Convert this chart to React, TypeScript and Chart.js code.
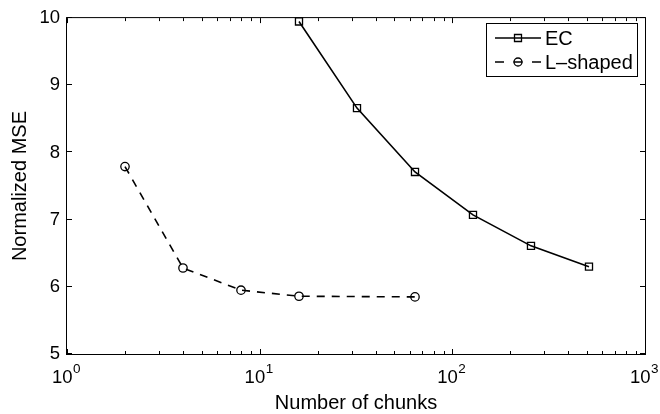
import React, { useEffect, useRef } from "react";
import { Chart, registerables } from "chart.js";

Chart.register(...registerables);

// ---- data ----
const ecChunks = [16, 32, 64, 128, 256, 512];
const ecMSE = [9.95, 8.66, 7.71, 7.07, 6.61, 6.3];
const lChunks = [2, 4, 8, 16, 64];
const lMSE = [7.79, 6.28, 5.95, 5.86, 5.85];
const xMajorTicks = [1, 10, 100, 1000];
const xTickBase = "10";
const xTickExponents = ["0", "1", "2", "3"];
const seriesLabels = ["EC", "L\u2013shaped"];
const xTitle = "Number of chunks";
const yTitle = "Normalized MSE";

const FONT = "'Liberation Sans', Arial, Helvetica, sans-serif";

const framePlugin = {
  id: "matlabFrame",
  afterDraw(chart: any) {
    const { ctx, chartArea } = chart;
    const { left, right, top, bottom } = chartArea;
    const xs = chart.scales.x;
    const ys = chart.scales.y;
    ctx.save();
    ctx.strokeStyle = "#000";
    ctx.fillStyle = "#000";
    ctx.lineWidth = 1;
    ctx.setLineDash([]);
    // box
    ctx.strokeRect(left - 0.5, top - 0.5, right - left + 1, bottom - top + 1);
    const MAJ = 5;
    const MIN = 3;
    const vline = (x: number, y1: number, y2: number) => {
      ctx.beginPath();
      ctx.moveTo(Math.round(x) + 0.5, y1);
      ctx.lineTo(Math.round(x) + 0.5, y2);
      ctx.stroke();
    };
    const hline = (y: number, x1: number, x2: number) => {
      ctx.beginPath();
      ctx.moveTo(x1, Math.round(y) - 0.5);
      ctx.lineTo(x2, Math.round(y) - 0.5);
      ctx.stroke();
    };
    // x ticks (major + minor) inward on bottom and top
    xMajorTicks.forEach((v, i) => {
      const px = xs.getPixelForValue(v);
      vline(px, bottom, bottom - MAJ);
      vline(px, top, top + MAJ);
      if (i < xMajorTicks.length - 1) {
        for (let k = 2; k <= 9; k++) {
          const mx = xs.getPixelForValue(v * k);
          vline(mx, bottom, bottom - MIN);
          vline(mx, top, top + MIN);
        }
      }
    });
    // y ticks inward on left and right
    ys.ticks.forEach((t: any) => {
      const py = ys.getPixelForValue(t.value);
      hline(py, left, left + MAJ);
      hline(py, right, right - MAJ);
    });
    // x tick labels 10^n
    const baseFont = `18.5px ${FONT}`;
    const expFont = `13.5px ${FONT}`;
    ctx.textBaseline = "alphabetic";
    ctx.textAlign = "left";
    xMajorTicks.forEach((v, i) => {
      const px = xs.getPixelForValue(v);
      ctx.font = baseFont;
      const w1 = ctx.measureText(xTickBase).width;
      ctx.font = expFont;
      const w2 = ctx.measureText(xTickExponents[i]).width;
      const x0 = px - (w1 + w2) / 2 - 1;
      ctx.font = baseFont;
      ctx.fillText(xTickBase, x0, bottom + 29);
      ctx.font = expFont;
      ctx.fillText(xTickExponents[i], x0 + w1 + 0.5, bottom + 18.5);
    });
    // legend
    const lx = 486.5, ly = 23.5, lw = 151, lh = 53;
    ctx.fillStyle = "#fff";
    ctx.fillRect(lx, ly, lw, lh);
    ctx.strokeStyle = "#000";
    ctx.lineWidth = 1;
    ctx.strokeRect(lx, ly, lw, lh);
    const rows = [38, 62];
    chart.data.datasets.forEach((ds: any, i: number) => {
      const y = rows[i];
      ctx.strokeStyle = "#000";
      ctx.lineWidth = 1.6;
      ctx.setLineDash(i === 1 ? [9, 9.5] : []);
      ctx.beginPath();
      ctx.moveTo(495, y);
      ctx.lineTo(541, y);
      ctx.stroke();
      ctx.setLineDash([]);
      ctx.lineWidth = 1.3;
      ctx.beginPath();
      if (ds.pointStyle === "rect") {
        ctx.rect(518 - 3.5, y - 3.5, 7, 7);
      } else {
        ctx.arc(518, y, 4, 0, Math.PI * 2);
      }
      ctx.stroke();
      ctx.fillStyle = "#000";
      ctx.font = `20px ${FONT}`;
      ctx.textBaseline = "middle";
      ctx.textAlign = "left";
      ctx.fillText(ds.label, 545, y + 1);
    });
    ctx.restore();
  },
};

export default function App() {
  const ref = useRef<HTMLCanvasElement | null>(null);
  useEffect(() => {
    if (!ref.current) return;
    const chart = new Chart(ref.current, {
      type: "line",
      data: {
        datasets: [
          {
            label: seriesLabels[0],
            data: ecChunks.map((x, i) => ({ x, y: ecMSE[i] })),
            borderColor: "#000",
            borderWidth: 1.6,
            pointStyle: "rect",
            pointRadius: 5,
            pointBorderWidth: 1.3,
            pointBorderColor: "#000",
            pointBackgroundColor: "rgba(0,0,0,0)",
            tension: 0,
            clip: false,
          } as any,
          {
            label: seriesLabels[1],
            data: lChunks.map((x, i) => ({ x, y: lMSE[i] })),
            borderColor: "#000",
            borderWidth: 1.6,
            borderDash: [8, 7],
            pointStyle: "circle",
            pointRadius: 4.2,
            pointBorderWidth: 1.3,
            pointBorderColor: "#000",
            pointBackgroundColor: "rgba(0,0,0,0)",
            tension: 0,
            clip: false,
          } as any,
        ],
      },
      options: {
        animation: false,
        responsive: false,
        events: [],
        layout: { padding: { top: 16, right: 15, left: 0, bottom: 0 } },
        plugins: {
          legend: { display: false },
          tooltip: { enabled: false },
        },
        scales: {
          x: {
            type: "logarithmic",
            min: 1,
            max: 1000,
            grid: { display: false, drawTicks: false },
            border: { display: false },
            ticks: { display: false },
            title: {
              display: true,
              text: xTitle,
              color: "#000",
              font: { family: FONT, size: 20 },
              padding: { top: 0, bottom: -1 },
            },
            afterFit: (s: any) => {
              s.height = 60;
            },
          },
          y: {
            type: "linear",
            min: 5,
            max: 10,
            grid: { display: false, drawTicks: false },
            border: { display: false },
            ticks: {
              stepSize: 1,
              color: "#000",
              padding: 7,
              font: { family: FONT, size: 18.5 },
            },
            title: {
              display: true,
              text: yTitle,
              color: "#000",
              font: { family: FONT, size: 20 },
              padding: { top: 8.5, bottom: 0 },
            },
            afterFit: (s: any) => {
              s.width = 67;
            },
          },
        },
      },
      plugins: [framePlugin],
    });
    return () => chart.destroy();
  }, []);
  return (
    <div style={{ position: "fixed", left: 0, top: 0, width: 660, height: 414, background: "#fff" }}>
      <canvas ref={ref} width={660} height={414} style={{ display: "block" }} />
    </div>
  );
}
